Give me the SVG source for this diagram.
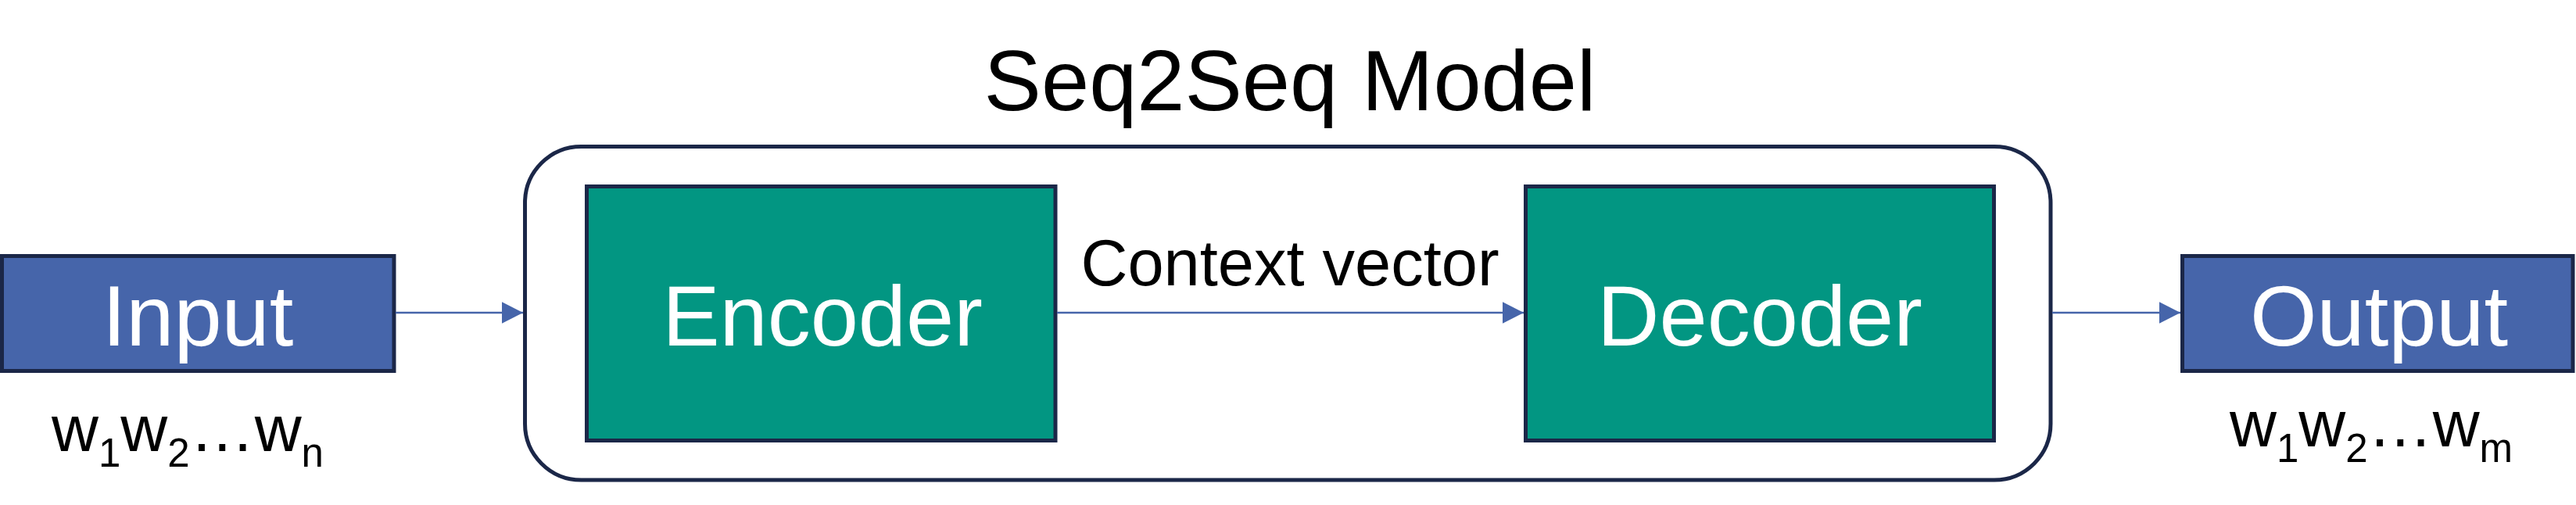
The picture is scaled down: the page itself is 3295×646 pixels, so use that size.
<svg xmlns="http://www.w3.org/2000/svg" width="3295" height="646" viewBox="0 0 3295 646">
  <style>
    .io { fill: #4665AA; stroke: #1B2748; stroke-width: 5; }
    .blk { fill: #029682; stroke: #1B2748; stroke-width: 5; }
    .frame { fill: none; stroke: #1B2748; stroke-width: 5; }
    .big { font-family: "Liberation Sans", Arial, sans-serif; font-size: 110px; fill: #FFFFFF; text-anchor: middle; }
    .title { font-family: "Liberation Sans", Arial, sans-serif; font-size: 110px; fill: #000000; text-anchor: middle; }
    .lbl { font-family: "Liberation Sans", Arial, sans-serif; font-size: 83px; fill: #000000; }
    .conn { stroke: #4665AA; stroke-width: 2.5; fill: none; }
  </style>
  <defs>
    <marker id="arrow" markerUnits="userSpaceOnUse" markerWidth="28" markerHeight="28" refX="27" refY="13.7" orient="auto">
      <path d="M0,0 L27,13.7 L0,27.4 z" fill="#4665AA"/>
    </marker>
  </defs>
  <rect width="3295" height="646" fill="#FFFFFF"/>

  <g id="seq2seq-model">
    <rect class="frame" x="671.5" y="187.5" width="1951.5" height="426.5" rx="72" ry="72"/>
    <text class="title" x="1650" y="141">Seq2Seq Model</text>
  </g>

  <g id="input">
    <rect class="io" x="2.5" y="327.5" width="501.5" height="147"/>
    <text class="big" x="253" y="441.5">Input</text>
    <text class="lbl" x="66" y="576.5">w<tspan font-size="51" dy="20">1</tspan><tspan dy="-20">w</tspan><tspan font-size="51" dy="20">2</tspan><tspan dy="-20">…w</tspan><tspan font-size="51" dy="20">n</tspan></text>
  </g>

  <g id="encoder">
    <rect class="blk" x="750.5" y="238.5" width="599.5" height="325"/>
    <text class="big" x="1052" y="441.5">Encoder</text>
  </g>

  <g id="decoder">
    <rect class="blk" x="1951.5" y="238.5" width="599" height="325"/>
    <text class="big" x="2251" y="441.5">Decoder</text>
  </g>

  <g id="output">
    <rect class="io" x="2791.5" y="327.5" width="499.5" height="147"/>
    <text class="big" x="3043" y="441.5">Output</text>
    <text class="lbl" x="2852" y="570.5">w<tspan font-size="51" dy="20">1</tspan><tspan dy="-20">w</tspan><tspan font-size="51" dy="20">2</tspan><tspan dy="-20">…w</tspan><tspan font-size="51" dy="20">m</tspan></text>
  </g>

  <g id="connectors">
    <line class="conn" x1="506" y1="400" x2="669" y2="400" marker-end="url(#arrow)"/>
    <line class="conn" x1="1352" y1="400" x2="1949" y2="400" marker-end="url(#arrow)"/>
    <text class="lbl" x="1650" y="364.5" text-anchor="middle">Context vector</text>
    <line class="conn" x1="2625" y1="400" x2="2789" y2="400" marker-end="url(#arrow)"/>
  </g>
</svg>
